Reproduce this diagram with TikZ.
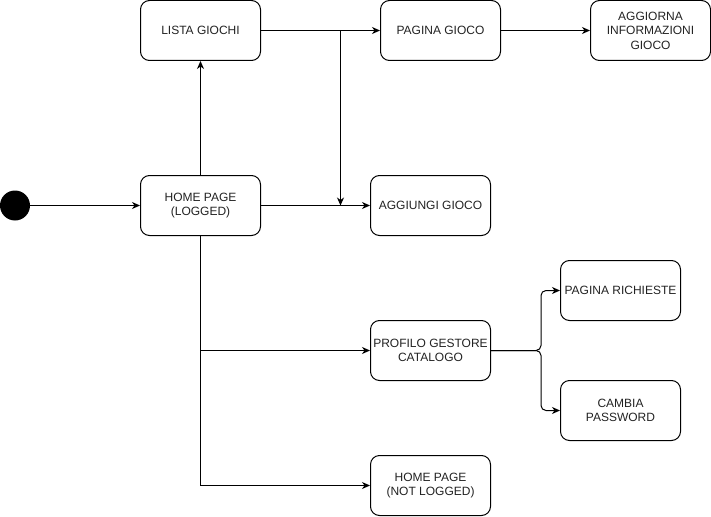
\documentclass[tikz,border=0pt]{standalone}
\usepackage{fontspec}
\setmainfont{Liberation Sans}
\usetikzlibrary{arrows.meta}
\definecolor{textc}{HTML}{222222}
\begin{document}
\begin{tikzpicture}[x=1pt,y=-1pt,
  box/.style={draw, line width=1pt, rounded corners=9pt, minimum width=120pt, minimum height=60pt,
    align=center, font=\fontsize{12}{14.5}\selectfont, text=textc, inner sep=0pt},
  arr/.style={line width=1pt, -{Stealth[length=8pt,width=7pt,inset=2.5pt]}}]
\useasboundingbox (0,0) rectangle (711,516);
\node[circle, fill, minimum size=30pt, inner sep=0pt] (start) at (15,205.5) {};
\node[box] (lista) at (200.5,30.5) {LISTA GIOCHI};
\node[box] (pagina) at (440.5,30.5) {PAGINA GIOCO};
\node[box] (aggiorna) at (650.5,30.5) {AGGIORNA\\INFORMAZIONI\\GIOCO};
\node[box] (hp) at (200.5,205.5) {HOME PAGE\\(LOGGED)};
\node[box] (aggiungi) at (430.5,205.5) {AGGIUNGI GIOCO};
\node[box] (richieste) at (620.5,290.5) {PAGINA RICHIESTE};
\node[box] (profilo) at (430.5,350.5) {PROFILO GESTORE\\CATALOGO};
\node[box] (cambia) at (620.5,410.5) {CAMBIA\\PASSWORD};
\node[box] (hpnl) at (430.5,485.5) {HOME PAGE\\(NOT LOGGED)};
\coordinate (br) at (340.5,30.5);
\draw[arr] (start) -- (hp);
\draw[arr] (hp) -- (lista);
\draw[arr] (lista) -- (pagina);
\draw[arr] (pagina) -- (aggiorna);
\draw[arr] (hp) -- (aggiungi);
\draw[arr] (br) -- (br |- hp.east);
\draw[arr] (hp.south) |- (hpnl.west);
\draw[arr] (hp.south |- profilo.west) -- (profilo.west);
\draw[arr, rounded corners=5pt] (profilo.east) -- ++(50,0) |- (richieste.west);
\draw[arr, rounded corners=5pt] (profilo.east) -- ++(50,0) |- (cambia.west);
\end{tikzpicture}
\end{document}
